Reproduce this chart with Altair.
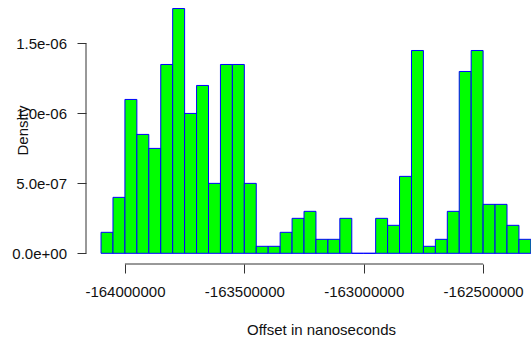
import altair as alt
import pandas as pd

# Histogram bins (left edges, ns) and densities
bin_left = [-164100000, -164050000, -164000000, -163950000, -163900000, -163850000,
            -163800000, -163750000, -163700000, -163650000, -163600000, -163550000,
            -163500000, -163450000, -163400000, -163350000, -163300000, -163250000,
            -163200000, -163150000, -163100000, -163050000, -163000000, -162950000,
            -162900000, -162850000, -162800000, -162750000, -162700000, -162650000,
            -162600000, -162550000, -162500000, -162450000, -162400000, -162350000]
bin_right = [-164050000, -164000000, -163950000, -163900000, -163850000, -163800000,
             -163750000, -163700000, -163650000, -163600000, -163550000, -163500000,
             -163450000, -163400000, -163350000, -163300000, -163250000, -163200000,
             -163150000, -163100000, -163050000, -163000000, -162950000, -162900000,
             -162850000, -162800000, -162750000, -162700000, -162650000, -162600000,
             -162550000, -162500000, -162450000, -162400000, -162350000, -162300000]
density = [1.5e-7, 4.0e-7, 1.1e-6, 8.5e-7, 7.5e-7, 1.35e-6,
           1.75e-6, 1.0e-6, 1.2e-6, 5.0e-7, 1.35e-6, 1.35e-6,
           5.0e-7, 5.0e-8, 5.0e-8, 1.5e-7, 2.5e-7, 3.0e-7,
           1.0e-7, 1.0e-7, 2.5e-7, 0.0, 0.0, 2.5e-7,
           2.0e-7, 5.5e-7, 1.45e-6, 5.0e-8, 1.0e-7, 3.0e-7,
           1.3e-6, 1.45e-6, 3.5e-7, 3.5e-7, 2.0e-7, 1.0e-7]

x_ticks = [-164000000, -163500000, -163000000, -162500000]
x_tick_labels = ["-164000000", "-163500000", "-163000000", "-162500000"]
y_ticks = [0.0, 5e-7, 1e-6, 1.5e-6]
y_tick_labels = ["0.0e+00", "5.0e-07", "1.0e-06", "1.5e-06"]

x_domain = [-164163000, -162299500]
y_domain = [-7.65e-8, 1.811e-6]

df = pd.DataFrame({"left": bin_left, "right": bin_right, "density": density})

# R-style axis lines span only the tick range
xline_df = pd.DataFrame({"left": [float(x_ticks[0])], "right": [float(x_ticks[-1])],
                         "density": [y_domain[0]]})
yline_df = pd.DataFrame({"left": [float(x_domain[0])], "density": [y_ticks[0]],
                         "top": [y_ticks[-1]]})


def label_expr(ticks, labels, tol):
    expr = "''"
    for t, l in reversed(list(zip(ticks, labels))):
        expr = f"abs(datum.value - ({t!r})) < {tol!r} ? '{l}' : ({expr})"
    return expr


FONT = "Liberation Sans"
xscale = alt.Scale(domain=x_domain, nice=False, zero=False)
yscale = alt.Scale(domain=y_domain, nice=False, zero=False)

x_axis = alt.Axis(values=x_ticks, labelExpr=label_expr(x_ticks, x_tick_labels, 1.0),
                  domain=False, grid=False, tickSize=9, tickColor="#333333",
                  labelFont=FONT, labelFontSize=15, labelColor="#111111",
                  labelPadding=11.5, labelBaseline="top", labelFlush=False,
                  labelOverlap=False,
                  title="Offset in nanoseconds", titleFont=FONT, titleFontSize=15,
                  titleFontWeight="normal", titleColor="#111111",
                  titleX=235, titleY=70, titleAlign="center",
                  titleBaseline="alphabetic")
y_axis = alt.Axis(values=y_ticks, labelExpr=label_expr(y_ticks, y_tick_labels, 1e-12),
                  domain=False, grid=False, tickSize=9, tickColor="#333333",
                  labelFont=FONT, labelFontSize=15, labelColor="#111111",
                  labelPadding=10.5, labelFlush=False, labelOverlap=False,
                  title="Density", titleFont=FONT, titleFontSize=15,
                  titleFontWeight="normal", titleColor="#111111",
                  titleX=-59, titleY=130, titleAngle=270, titleAlign="center",
                  titleBaseline="alphabetic")

bars = alt.Chart(df).mark_rect(
    fill="#00FF00", stroke="#0000FF", strokeWidth=1
).encode(
    x=alt.X("left:Q", scale=xscale, axis=x_axis),
    x2="right:Q",
    y=alt.Y("density:Q", scale=yscale, axis=y_axis),
    y2=alt.datum(0),
)

x_axis_line = alt.Chart(xline_df).mark_rule(
    color="#333333", strokeWidth=1
).encode(
    x=alt.X("left:Q", scale=xscale, axis=x_axis),
    x2="right:Q",
    y=alt.Y("density:Q", scale=yscale, axis=y_axis),
)

y_axis_line = alt.Chart(yline_df).mark_rule(
    color="#333333", strokeWidth=1
).encode(
    x=alt.X("left:Q", scale=xscale, axis=x_axis),
    y=alt.Y("density:Q", scale=yscale, axis=y_axis),
    y2="top:Q",
)

chart = alt.layer(bars, x_axis_line, y_axis_line).properties(
    width=445, height=264,
    padding={"left": 86, "top": 0, "right": 0, "bottom": 76},
    autosize=alt.AutoSizeParams(type="none"),
    background="white",
).configure_view(stroke=None)

chart.save("out.html", embed_options={"renderer": "svg", "actions": False})
